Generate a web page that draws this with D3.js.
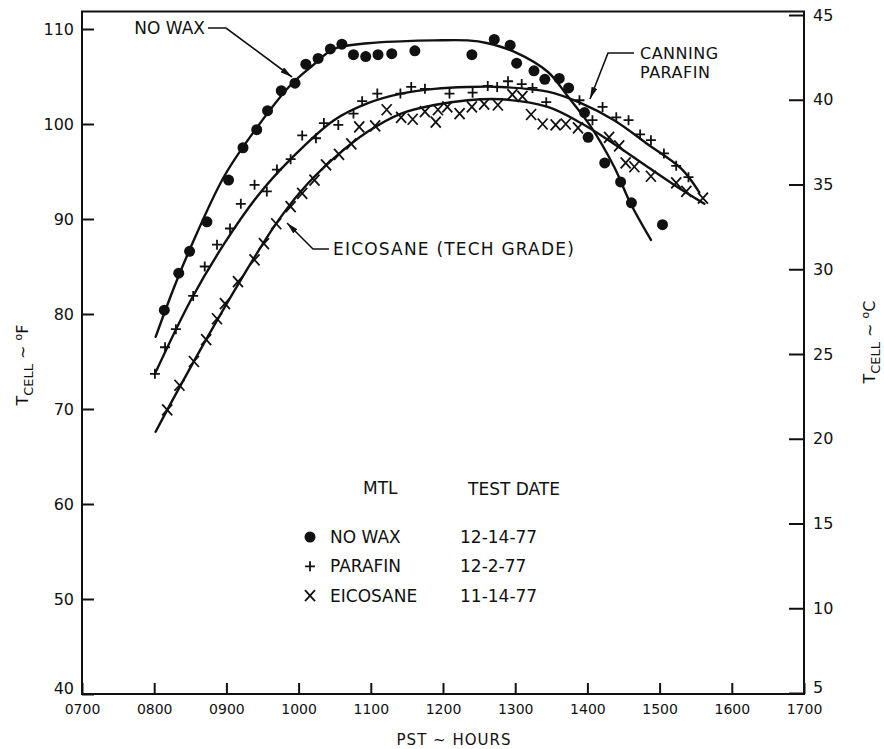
<!DOCTYPE html>
<html><head><meta charset="utf-8">
<script src="https://cdn.jsdelivr.net/npm/d3@7"></script>
<style>
body{margin:0;background:#fff}
svg{display:block}
text{font-family:"DejaVu Sans",sans-serif;fill:#111}
</style>
</head><body>
<svg id="chart" width="884" height="749"></svg>
<script>
// ---------- data ----------
const hourTicks  = [7,8,9,10,11,12,13,14,15,16,17];
const hourLabels = ["0700","0800","0900","1000","1100","1200","1300","1400","1500","1600","1700"];
const tempFTicks = [40,50,60,70,80,90,100,110];
const tempCTicks = [5,10,15,20,25,30,35,40,45];

// measured points  [hour (decimal), T cell °F]
const noWaxPts = [[8.14,80.4],[8.34,84.3],[8.49,86.6],[8.73,89.7],[9.03,94.1],[9.23,97.5],[9.42,99.4],
  [9.57,101.4],[9.76,103.5],[9.95,104.3],[10.10,106.3],[10.27,106.9],[10.44,107.9],[10.60,108.4],
  [10.76,107.3],[10.93,107.1],[11.10,107.3],[11.29,107.4],[11.61,107.7],[12.40,107.3],[12.71,108.9],
  [12.93,108.3],[13.02,106.4],[13.26,105.6],[13.41,104.7],[13.61,104.8],[13.74,103.8],[13.96,101.2],
  [14.01,98.6],[14.24,95.9],[14.46,93.9],[14.61,91.7],[15.04,89.4]];
const parafinPts = [[8.01,73.7],[8.15,76.5],[8.30,78.4],[8.54,81.9],[8.70,85.0],[8.87,87.3],[9.05,89.0],
  [9.20,91.6],[9.39,93.6],[9.56,92.9],[9.70,95.2],[9.89,96.3],[10.05,98.8],[10.24,98.5],[10.35,100.1],
  [10.55,99.9],[10.76,101.1],[10.88,102.4],[11.09,103.2],[11.41,103.2],[11.56,103.9],[11.75,103.7],
  [12.09,103.2],[12.41,103.3],[12.62,104.0],[12.75,103.9],[12.90,104.5],[13.09,104.2],[13.24,103.8],
  [13.43,102.3],[13.89,102.5],[14.07,100.4],[14.21,101.8],[14.40,100.7],[14.57,100.4],[14.73,98.9],
  [14.88,98.3],[15.06,96.9],[15.23,95.6],[15.40,94.4]];
const eicosanePts = [[8.18,69.9],[8.35,72.5],[8.55,75.0],[8.72,77.3],[8.87,79.5],[8.98,81.1],[9.16,83.4],
  [9.39,85.7],[9.52,87.4],[9.69,89.5],[9.89,91.3],[10.05,92.7],[10.22,94.1],[10.38,95.7],[10.56,96.8],
  [10.73,97.9],[10.84,99.7],[11.06,99.8],[11.22,101.5],[11.42,100.7],[11.58,100.5],[11.75,101.3],
  [11.90,100.2],[11.93,101.5],[12.06,101.8],[12.23,101.1],[12.40,101.8],[12.57,102.1],[12.76,102.0],
  [12.96,103.1],[13.10,102.9],[13.22,101.0],[13.38,100.0],[13.56,99.9],[13.70,100.0],[13.87,99.6],
  [14.30,98.6],[14.44,97.7],[14.53,95.9],[14.65,95.5],[14.88,94.5],[15.23,93.8],[15.37,92.9],[15.60,92.2]];

// faired curves drawn on the original  [hour, °F]
const noWaxCurve = [[8.02,77.6],[8.28,82.9],[8.51,87.1],[8.97,94.5],[9.43,99.7],[9.89,104.1],[10.17,106.0],
  [10.49,107.9],[10.96,108.5],[11.42,108.7],[11.88,108.8],[12.34,108.8],[12.62,108.5],[12.99,107.6],
  [13.45,105.5],[13.73,102.9],[14.05,99.7],[14.37,95.5],[14.60,91.6],[14.88,87.8]];
const parafinCurve = [[8.01,73.7],[8.51,81.5],[8.97,87.4],[9.43,92.4],[9.89,96.3],[10.49,100.4],
  [10.96,102.2],[11.42,103.2],[11.88,103.7],[12.34,103.9],[12.80,103.9],[13.45,103.4],[13.91,102.2],
  [14.37,100.4],[14.83,97.9],[15.30,95.3],[15.55,92.8]];
const eicosaneCurve = [[8.02,67.6],[8.28,71.3],[8.74,77.6],[9.20,83.6],[9.66,89.2],[10.03,92.9],
  [10.49,96.4],[10.96,99.2],[11.42,101.1],[11.88,102.0],[12.34,102.5],[12.80,102.6],[13.45,101.8],
  [13.91,100.1],[14.37,97.9],[14.83,95.5],[15.30,93.1],[15.62,91.6]];

const legendMtl   = ["NO WAX","PARAFIN","EICOSANE"];
const legendDates = ["12-14-77","12-2-77","11-14-77"];
const legendSyms  = ["dot","plus","cross"];

// ---------- drawing ----------
const svg = d3.select("#chart");
const x  = d3.scaleLinear().domain([7,17]).range([82,804]);
const y  = d3.scaleLinear().domain([40,110]).range([694,29]);
const yC = d3.scaleLinear().domain([5,45]).range([693,15]);
const yTop = 11.5;
const ink = "#111";

svg.append("rect").attr("width",884).attr("height",749).attr("fill","#fff");

// frame
svg.append("rect").attr("x",x(7)).attr("y",yTop)
  .attr("width",x(17)-x(7)).attr("height",y(40)-yTop)
  .attr("fill","none").attr("stroke",ink).attr("stroke-width",2);

// axes
const gL = svg.append("g").attr("transform",`translate(${x(7)},0)`)
  .call(d3.axisLeft(y).tickValues(tempFTicks).tickSizeInner(-12).tickSizeOuter(0).tickPadding(8));
const gB = svg.append("g").attr("transform",`translate(0,${y(40)})`)
  .call(d3.axisBottom(x).tickValues(hourTicks).tickFormat((d,i)=>hourLabels[i]).tickSizeInner(-11).tickSizeOuter(0).tickPadding(10));
const gR = svg.append("g").attr("transform",`translate(${x(17)},0)`)
  .call(d3.axisRight(yC).tickValues(tempCTicks).tickSizeInner(-15).tickSizeOuter(0).tickPadding(9));
[gL,gB,gR].forEach(g=>{
  g.select(".domain").remove();
  g.selectAll(".tick line").attr("stroke",ink).attr("stroke-width",2);
  g.selectAll(".tick text").attr("fill",ink).style("font-family","DejaVu Sans");
});
gL.selectAll(".tick text").style("font-size","16px");
gR.selectAll(".tick text").style("font-size","16px");
gB.selectAll(".tick text").style("font-size","14px");
// corner labels sit just above the bottom frame line in the original
gL.selectAll(".tick").filter(d=>d===40).select("text").attr("dy","-0.05em");
gR.selectAll(".tick").filter(d=>d===5).select("text").attr("dy","-0.05em");

// axis titles
const lt = svg.append("text").attr("transform",`translate(28,${365}) rotate(-90)`)
  .attr("text-anchor","middle").style("font-size","16px");
lt.append("tspan").text("T");
lt.append("tspan").attr("dy",5).style("font-size","13px").text("CELL");
lt.append("tspan").attr("dy",-5).text(" ~ ");
lt.append("tspan").attr("dy",-6).style("font-size","11px").text("o");
lt.append("tspan").attr("dy",6).text("F");

const rt = svg.append("text").attr("transform",`translate(875,${342}) rotate(-90)`)
  .attr("text-anchor","middle").style("font-size","16px");
rt.append("tspan").text("T");
rt.append("tspan").attr("dy",5).style("font-size","13px").text("CELL");
rt.append("tspan").attr("dy",-5).text(" ~ ");
rt.append("tspan").attr("dy",-6).style("font-size","11px").text("o");
rt.append("tspan").attr("dy",6).text("C");

svg.append("text").attr("x",454).attr("y",745).attr("text-anchor","middle")
  .style("font-size","15px").style("letter-spacing","1px").text("PST ~ HOURS");

// curves
const line = d3.line().x(d=>x(d[0])).y(d=>y(d[1])).curve(d3.curveCatmullRom.alpha(0.5));
[noWaxCurve,parafinCurve,eicosaneCurve].forEach(c=>{
  svg.append("path").datum(c).attr("d",line).attr("fill","none")
    .attr("stroke",ink).attr("stroke-width",2.4).attr("stroke-linecap","round");
});

// markers
function drawSym(g,type,cx,cy){
  if(type==="dot"){
    g.append("circle").attr("cx",cx).attr("cy",cy).attr("r",5.5).attr("fill",ink);
  } else if(type==="plus"){
    g.append("path").attr("d",`M${cx-5},${cy}H${cx+5}M${cx},${cy-5}V${cy+5}`)
      .attr("stroke",ink).attr("stroke-width",1.8).attr("fill","none");
  } else {
    g.append("path").attr("d",`M${cx-5},${cy-5.5}L${cx+5},${cy+5.5}M${cx-5},${cy+5.5}L${cx+5},${cy-5.5}`)
      .attr("stroke",ink).attr("stroke-width",1.8).attr("fill","none");
  }
}
const gm = svg.append("g");
noWaxPts.forEach(d=>drawSym(gm,"dot",x(d[0]),y(d[1])));
parafinPts.forEach(d=>drawSym(gm,"plus",x(d[0]),y(d[1])));
eicosanePts.forEach(d=>drawSym(gm,"cross",x(d[0]),y(d[1])));

// arrow marker
svg.append("defs").append("marker").attr("id","arr").attr("viewBox","0 0 12 6")
  .attr("refX",12).attr("refY",3).attr("markerWidth",12).attr("markerHeight",6)
  .attr("markerUnits","userSpaceOnUse").attr("orient","auto")
  .append("path").attr("d","M0,0L12,3L0,6Z").attr("fill",ink);

const leader = d3.line();
function note(pts){
  svg.append("path").attr("d",leader(pts)).attr("fill","none").attr("stroke",ink)
    .attr("stroke-width",1.6).attr("marker-end","url(#arr)");
}
// NO WAX
svg.append("text").attr("x",205).attr("y",34).attr("text-anchor","end").style("font-size","17px").text("NO WAX");
note([[208,28],[226,28],[292,77]]);
// CANNING PARAFIN
svg.append("text").attr("x",640).attr("y",59).style("font-size","16px").style("letter-spacing","0.5px").text("CANNING");
svg.append("text").attr("x",640).attr("y",78).style("font-size","16px").style("letter-spacing","0.5px").text("PARAFIN");
note([[634,53],[608,53],[590,99]]);
// EICOSANE
svg.append("text").attr("x",333).attr("y",255).style("font-size","17px").style("letter-spacing","1.2px")
  .text("EICOSANE (TECH GRADE)");
note([[329,249],[313,249],[287,223]]);

// legend
const lg = svg.append("g").style("font-size","17px");
lg.append("text").attr("x",363).attr("y",494).text("MTL");
lg.append("text").attr("x",468).attr("y",495).text("TEST DATE");
legendMtl.forEach((m,i)=>{
  const cy = 537 + i*29.3;
  drawSym(lg,legendSyms[i],310,cy);
  lg.append("text").attr("x",330).attr("y",cy+6).text(m);
  lg.append("text").attr("x",460).attr("y",cy+6).text(legendDates[i]);
});
</script>
</body></html>
